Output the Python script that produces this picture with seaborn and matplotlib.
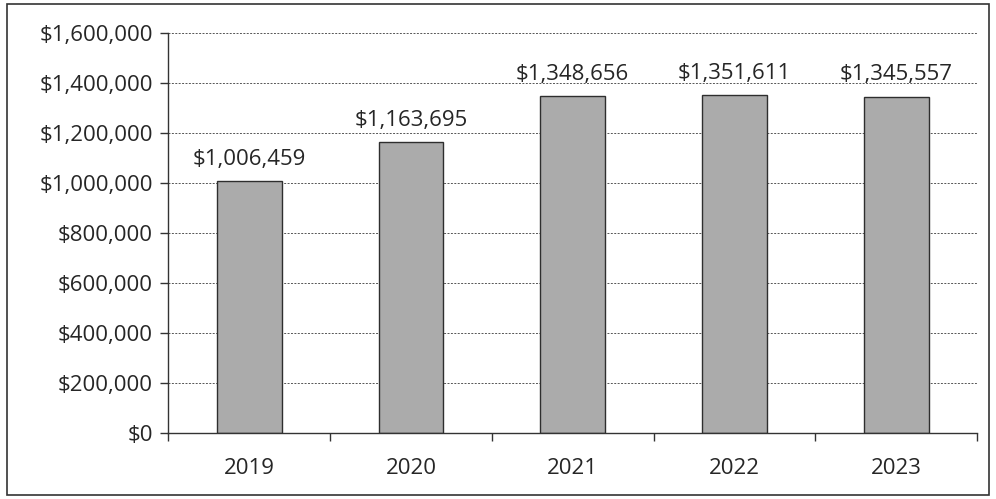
import matplotlib
matplotlib.use("Agg")
import matplotlib.pyplot as plt
import matplotlib.ticker as mticker
from matplotlib.patches import Rectangle
import seaborn as sns
import pandas as pd

years = ["2019", "2020", "2021", "2022", "2023"]
amounts = [1006459, 1163695, 1348656, 1351611, 1345557]
y_ticks = [0, 200000, 400000, 600000, 800000, 1000000, 1200000, 1400000, 1600000]

df = pd.DataFrame({"year": years, "amount": amounts})

sns.set_style("white")
plt.rcParams["font.family"] = ["Open Sans", "DejaVu Sans"]

fig = plt.figure(figsize=(9.96, 4.99), dpi=100)
ax = fig.add_axes([0.169, 0.132, 0.812, 0.802])

sns.barplot(data=df, x="year", y="amount", color="#ababab", width=0.4,
            edgecolor="#2e2e2e", linewidth=1.0, ax=ax, saturation=1)

ax.set_ylim(0, 1600000)
ax.set_xlim(-0.5, 4.5)
ax.set_yticks(y_ticks)
ax.yaxis.set_major_formatter(mticker.FuncFormatter(lambda v, p: "${:,.0f}".format(v)))
ax.grid(axis="y", linestyle=(0, (2, 1.5)), color="#555555", linewidth=0.7)
ax.set_axisbelow(True)
ax.set_xlabel("")
ax.set_ylabel("")

for i, v in enumerate(amounts):
    ax.text(i, v + 45000, "${:,}".format(v), ha="center", va="bottom", fontsize=16)

# category boundary ticks on x axis
ax.set_xticks(range(len(years)))
ax.set_xticks([i - 0.5 for i in range(len(years) + 1)], minor=True)
ax.tick_params(axis="x", which="major", length=0, pad=18, labelsize=16)
ax.tick_params(axis="x", which="minor", length=6, width=1, color="#333333", direction="out")
ax.tick_params(axis="y", length=6, width=1, color="#333333", direction="out", labelsize=16, pad=5)
ax.tick_params(bottom=True, left=True, which="both")

for side in ["top", "right"]:
    ax.spines[side].set_visible(False)
for side in ["left", "bottom"]:
    ax.spines[side].set_color("#333333")
    ax.spines[side].set_linewidth(1.0)

fig.patches.append(Rectangle((0.007, 0.008), 0.986, 0.984, transform=fig.transFigure,
                             fill=False, edgecolor="#333333", linewidth=1.2))

fig.savefig("out.png", dpi=100)
